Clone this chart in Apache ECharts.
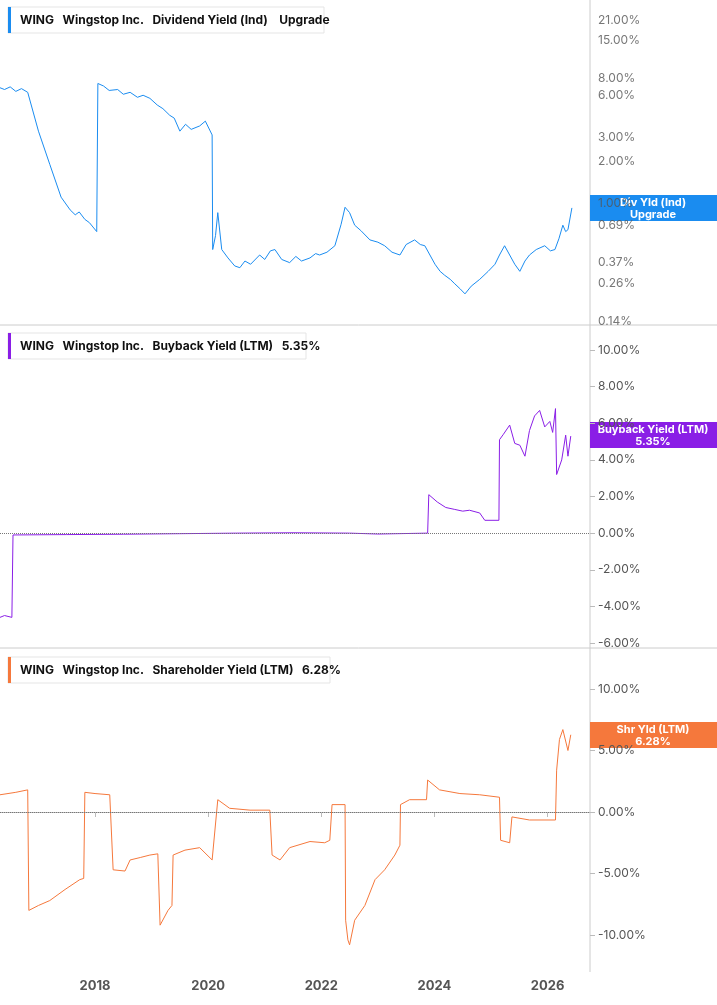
<!DOCTYPE html>
<html><head><meta charset="utf-8">
<script src="https://cdn.jsdelivr.net/npm/echarts@6/dist/echarts.min.js"></script>
<style>html,body{margin:0;padding:0;background:#fff}#c{width:717px;height:1005px}</style>
</head><body><div id="c"></div>
<script>
const divYield = [[2016.32,6.8],[2016.4,6.6],[2016.5,6.9],[2016.6,6.4],[2016.7,6.7],[2016.81,6.3],[2017.0,3.3],[2017.2,1.9],[2017.4,1.1],[2017.56,0.89],[2017.65,0.82],[2017.72,0.86],[2017.82,0.76],[2017.9,0.72],[2018.03,0.62],[2018.05,7.3],[2018.15,7.0],[2018.25,6.5],[2018.4,6.6],[2018.5,6.1],[2018.62,6.3],[2018.75,5.8],[2018.85,6.0],[2018.97,5.7],[2019.1,5.1],[2019.2,4.8],[2019.32,4.3],[2019.4,4.1],[2019.5,3.3],[2019.6,3.7],[2019.7,3.4],[2019.85,3.6],[2019.95,3.9],[2020.07,3.1],[2020.08,0.46],[2020.13,0.58],[2020.17,0.85],[2020.24,0.46],[2020.35,0.4],[2020.47,0.35],[2020.56,0.34],[2020.65,0.38],[2020.75,0.36],[2020.91,0.42],[2021.0,0.39],[2021.1,0.45],[2021.18,0.46],[2021.3,0.39],[2021.44,0.37],[2021.55,0.41],[2021.65,0.38],[2021.8,0.40],[2021.9,0.43],[2021.97,0.42],[2022.1,0.44],[2022.24,0.49],[2022.35,0.7],[2022.42,0.93],[2022.5,0.85],[2022.59,0.69],[2022.7,0.63],[2022.86,0.54],[2023.0,0.52],[2023.12,0.49],[2023.25,0.44],[2023.39,0.42],[2023.5,0.5],[2023.65,0.54],[2023.75,0.5],[2023.83,0.49],[2023.92,0.42],[2024.01,0.36],[2024.1,0.32],[2024.18,0.30],[2024.28,0.28],[2024.36,0.26],[2024.45,0.24],[2024.54,0.22],[2024.65,0.25],[2024.8,0.28],[2024.95,0.32],[2025.07,0.36],[2025.15,0.42],[2025.24,0.49],[2025.33,0.42],[2025.42,0.36],[2025.51,0.32],[2025.6,0.38],[2025.68,0.42],[2025.8,0.46],[2025.95,0.49],[2026.05,0.45],[2026.13,0.46],[2026.2,0.55],[2026.27,0.69],[2026.32,0.62],[2026.36,0.64],[2026.43,0.92]];
const buybackYield = [[2016.32,-4.6],[2016.4,-4.5],[2016.53,-4.6],[2016.55,-0.1],[2017.5,-0.08],[2018.5,-0.06],[2019.5,-0.03],[2020.5,0.0],[2021.5,0.02],[2022.5,0.0],[2023.0,-0.05],[2023.88,0.0],[2023.9,2.1],[2024.05,1.7],[2024.2,1.4],[2024.35,1.3],[2024.5,1.2],[2024.62,1.25],[2024.8,1.1],[2024.89,0.7],[2025.14,0.7],[2025.15,5.1],[2025.22,5.4],[2025.33,5.9],[2025.42,4.9],[2025.51,4.8],[2025.6,4.2],[2025.68,5.6],[2025.77,6.4],[2025.86,6.7],[2025.95,5.8],[2026.04,6.1],[2026.09,5.5],[2026.14,6.8],[2026.16,3.2],[2026.25,4.0],[2026.32,5.35],[2026.36,4.2],[2026.41,5.3]];
const shareholderYield = [[2016.32,1.4],[2016.6,1.6],[2016.81,1.8],[2016.83,-8.0],[2017.0,-7.6],[2017.2,-7.2],[2017.47,-6.3],[2017.73,-5.5],[2017.8,-5.4],[2017.82,1.6],[2018.0,1.5],[2018.26,1.4],[2018.32,-4.7],[2018.53,-4.8],[2018.62,-3.9],[2018.8,-3.7],[2018.97,-3.5],[2019.11,-3.4],[2019.15,-9.2],[2019.29,-8.0],[2019.36,-7.6],[2019.38,-3.5],[2019.59,-3.1],[2019.85,-2.9],[2020.07,-3.9],[2020.17,1.0],[2020.38,0.3],[2020.74,0.15],[2021.09,0.15],[2021.13,-3.5],[2021.27,-3.9],[2021.44,-2.9],[2021.8,-2.4],[2022.06,-2.5],[2022.15,-2.3],[2022.19,0.6],[2022.42,0.6],[2022.43,-8.8],[2022.47,-10.4],[2022.5,-10.8],[2022.59,-8.8],[2022.77,-7.6],[2022.95,-5.5],[2023.12,-4.7],[2023.3,-3.5],[2023.39,-2.7],[2023.4,0.6],[2023.56,1.0],[2023.86,1.0],[2023.88,2.6],[2024.09,1.8],[2024.45,1.5],[2024.8,1.4],[2025.15,1.2],[2025.17,-2.3],[2025.33,-2.5],[2025.37,-0.4],[2025.68,-0.65],[2026.14,-0.65],[2026.16,3.4],[2026.21,5.9],[2026.27,6.7],[2026.36,5.0],[2026.41,6.28]];
const divTicks = [21,15,8,6,3,2,1,0.69,0.37,0.26,0.14];
const yearTicks = [2018,2020,2022,2024,2026];

const X0 = 2016.32, X1 = 2026.75;
const lab = {color:'#555', fontSize:12, fontFamily:'Inter, sans-serif'};
function pct(v){return v.toFixed(2)+'%';}
function xAxis(i, show){
  return {type:'value', gridIndex:i, min:X0, max:X1, splitLine:{show:false},
    axisLine:{show:show, lineStyle:{color:'#bbb'}}, offset: show?37:0,
    axisTick:{show:show, customValues:yearTicks, lineStyle:{color:'#bbb'}},
    axisLabel:{show:show, customValues:yearTicks, formatter:v=>String(Math.round(v)), color:'#555', fontSize:13, fontWeight:'bold', fontFamily:'Inter, sans-serif'}};
}
const zeroLine = {silent:true, symbol:'none', label:{show:false}, lineStyle:{color:'#777', type:'dotted', width:1}, data:[{yAxis:0}]};
function legend(y, color, title, w){
  return [
    {type:'rect', shape:{x:8,y:y,width:w,height:26}, style:{fill:'#fff', stroke:'#e5e5e5'}},
    {type:'rect', shape:{x:8,y:y,width:3,height:26}, style:{fill:color}},
    {type:'text', x:20, y:y+7, style:{text:title, fill:'#111', font:'bold 12px Inter, sans-serif'}}
  ];
}
function badge(y, color, l1, l2){
  return [
    {type:'rect', shape:{x:590,y:y,width:127,height:26}, style:{fill:color}},
    {type:'text', x:653, y:y+2, style:{text:l1+'\n'+l2, fill:'#fff', align:'center', font:'bold 11px Inter, sans-serif', lineHeight:12}}
  ];
}
const chart = echarts.init(document.getElementById('c'));
chart.setOption({
  animation:false,
  grid:[{left:0,right:127,top:20,bottom:684},{left:0,right:127,top:350,bottom:362},{left:0,right:127,top:689,bottom:70}],
  xAxis:[xAxis(0,false),xAxis(1,false),xAxis(2,true)],
  yAxis:[
    {type:'log', gridIndex:0, position:'right', min:0.14, max:21, axisLabel:{show:false}, axisTick:{show:false}, axisLine:{show:false}, splitLine:{show:false}},
    {type:'value', gridIndex:1, position:'right', min:-6, max:10, interval:2, axisLabel:Object.assign({formatter:pct},lab), axisTick:{show:true,lineStyle:{color:'#bbb'}}, axisLine:{show:false}, splitLine:{show:false}},
    {type:'value', gridIndex:2, position:'right', min:-10, max:10, interval:5, axisLabel:Object.assign({formatter:pct},lab), axisTick:{show:true,lineStyle:{color:'#bbb'}}, axisLine:{show:false}, splitLine:{show:false}}
  ],
  series:[
    {type:'line', xAxisIndex:0, yAxisIndex:0, data:divYield, symbol:'none', clip:false, lineStyle:{color:'#1a8cf0', width:1}, z:3},
    {type:'scatter', xAxisIndex:0, yAxisIndex:0, clip:false, silent:true, symbolSize:0, z:1,
      data:divTicks.map(v=>[X1, v]),
      label:{show:true, position:'right', distance:8, formatter:p=>pct(p.value[1]), color:'#555', fontSize:12, fontFamily:'Inter, sans-serif'}},
    {type:'line', xAxisIndex:1, yAxisIndex:1, data:buybackYield, symbol:'none', clip:false, lineStyle:{color:'#8a1ee6', width:1}, markLine:zeroLine},
    {type:'line', xAxisIndex:2, yAxisIndex:2, data:shareholderYield, symbol:'none', clip:false, lineStyle:{color:'#f5783c', width:1}, markLine:zeroLine}
  ],
  graphic:[].concat(
    [{type:'line', shape:{x1:590,y1:0,x2:590,y2:972}, style:{stroke:'#ccc'}},
     {type:'line', shape:{x1:0,y1:325,x2:717,y2:325}, style:{stroke:'#ccc'}},
     {type:'line', shape:{x1:0,y1:648,x2:717,y2:648}, style:{stroke:'#ccc'}}],
    legend(7,'#1a8cf0','WING   Wingstop Inc.   Dividend Yield (Ind)    Upgrade',316),
    legend(333,'#8a1ee6','WING   Wingstop Inc.   Buyback Yield (LTM)   5.35%',298),
    legend(657,'#f5783c','WING   Wingstop Inc.   Shareholder Yield (LTM)   6.28%',322),
    badge(195,'#1a8cf0','Div Yld (Ind)','Upgrade'),
    badge(422,'#8a1ee6','Buyback Yield (LTM)','5.35%'),
    badge(722,'#f5783c','Shr Yld (LTM)','6.28%')
  )
});
</script></body></html>
